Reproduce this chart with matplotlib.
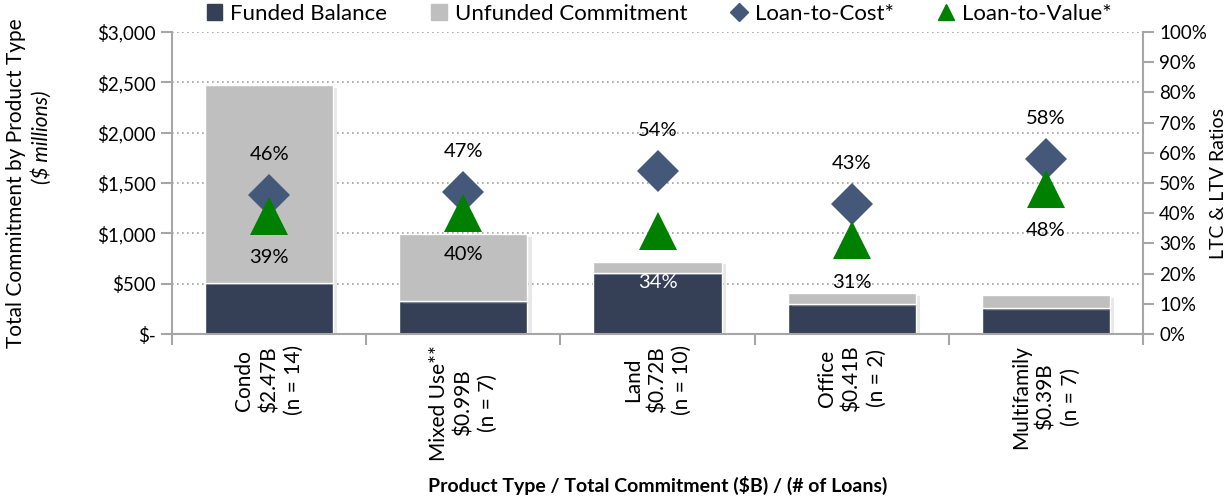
import matplotlib.pyplot as plt
import matplotlib.patheffects as pe
from matplotlib.lines import Line2D
from matplotlib.patches import Patch
from matplotlib.ticker import FuncFormatter, MultipleLocator

categories = ['Condo', 'Mixed Use**', 'Land', 'Office', 'Multifamily']
total_label = ['$2.47B', '$0.99B', '$0.72B', '$0.41B', '$0.39B']
loan_counts = [14, 7, 10, 2, 7]
funded = [510, 330, 610, 300, 260]
total = [2470, 990, 720, 410, 390]
ltc = [46, 47, 54, 43, 58]
ltv = [39, 40, 34, 31, 48]

NAVY = '#353F56'
GREY = '#BFBFBF'
DIAMOND = '#44587A'
GREEN = '#008000'
AXIS = '#A6A6A6'


def money(v, pos):
    if v == 0:
        return '$-'
    return f'${v:,.0f}'


def main():
    plt.rcParams['font.family'] = ['Lato', 'DejaVu Sans']
    fig = plt.figure(figsize=(12.32, 4.96), dpi=100)
    ax = fig.add_axes([0.1396, 0.3266, 0.7882, 0.6089])
    ax2 = ax.twinx()

    x = list(range(len(categories)))
    unfunded = [t - f for t, f in zip(total, funded)]
    shadow = [pe.SimplePatchShadow(offset=(3, -2), shadow_rgbFace='#9A9A9A',
                                   alpha=0.22, linewidth=0), pe.Normal()]
    b1 = ax.bar(x, funded, width=0.66, color=NAVY, edgecolor='white',
                linewidth=1, zorder=2)
    b2 = ax.bar(x, unfunded, bottom=funded, width=0.66, color=GREY,
                edgecolor='white', linewidth=1, zorder=2)
    for r in list(b1) + list(b2):
        r.set_path_effects(shadow)

    ax.set_xlim(-0.5, len(categories) - 0.5)
    ax.set_ylim(0, 3000)
    ax.yaxis.set_major_locator(MultipleLocator(500))
    ax.yaxis.set_major_formatter(FuncFormatter(money))
    ax.grid(axis='y', linestyle=(0, (1, 2)), color='#A0A0A0', linewidth=1.2,
            zorder=0)
    ax.set_axisbelow(True)

    # category labels centred, ticks on the category boundaries
    labels = [f'{c}\n{t}\n(n = {n})'
              for c, t, n in zip(categories, total_label, loan_counts)]
    ax.set_xticks(x)
    ax.set_xticklabels(labels, rotation=90, fontsize=15,
                       multialignment='center', va='top', linespacing=1.3)
    ax.tick_params(axis='x', length=0, pad=8)
    ax.set_xticks([i - 0.5 for i in x] + [x[-1] + 0.5], minor=True)
    ax.tick_params(axis='x', which='minor', length=8, color=AXIS, width=1.5)

    ax.tick_params(axis='y', labelsize=13.5, length=8, color=AXIS, width=1.5)
    ax2.tick_params(axis='y', labelsize=13.5, length=8, color=AXIS, width=1.5)
    for a in (ax, ax2):
        for s in a.spines.values():
            s.set_color(AXIS)
            s.set_linewidth(1.5)
        a.spines['top'].set_visible(False)
    ax.spines['right'].set_visible(False)
    ax2.spines['left'].set_visible(False)
    ax2.spines['bottom'].set_visible(False)

    ax2.set_ylim(0, 100)
    ax2.yaxis.set_major_locator(MultipleLocator(10))
    ax2.yaxis.set_major_formatter(FuncFormatter(lambda v, p: f'{v:.0f}%'))

    ax2.plot(x, ltc, linestyle='none', marker='D', markersize=21,
             color=DIAMOND, markeredgewidth=0, zorder=4)
    ax2.plot(x, ltv, linestyle='none', marker='^', markersize=27,
             color=GREEN, markeredgewidth=0, zorder=5)
    for i in x:
        ax2.annotate(f'{ltc[i]}%', (i, ltc[i]), xytext=(0, 29),
                     textcoords='offset points', ha='center', va='center',
                     fontsize=14.5)
        inside = categories[i] == 'Land'
        ax2.annotate(f'{ltv[i]}%', (i, ltv[i]),
                     xytext=(0, -37 if inside else -30),
                     textcoords='offset points', ha='center', va='center',
                     fontsize=14.5, color='white' if inside else 'black')

    fig.text(0.013, 0.63, 'Total Commitment by Product Type', rotation=90,
             fontsize=15, ha='center', va='center')
    fig.text(0.034, 0.724, '($ millions)', rotation=90, fontsize=15,
             style='italic', ha='center', va='center')
    fig.text(0.989, 0.63, 'LTC & LTV Ratios', rotation=90, fontsize=14,
             ha='center', va='center')
    fig.text(0.5335, 0.022, 'Product Type / Total Commitment ($B) / (# of Loans)',
             ha='center', va='center', fontsize=14, fontweight='bold')

    handles = [
        Patch(color=NAVY, label='Funded Balance'),
        Patch(color=GREY, label='Unfunded Commitment'),
        Line2D([], [], linestyle='none', marker='D', markersize=9,
               color=DIAMOND, label='Loan-to-Cost*'),
        Line2D([], [], linestyle='none', marker='^', markersize=11,
               color=GREEN, label='Loan-to-Value*'),
    ]
    fig.legend(handles=handles, loc='center', bbox_to_anchor=(0.535, 0.972),
               ncol=4, frameon=False, fontsize=16, handlelength=0.7,
               handleheight=0.7, handletextpad=0.35, columnspacing=2.0)

    fig.savefig('out.png', dpi=100)


if __name__ == "__main__":
    main()
